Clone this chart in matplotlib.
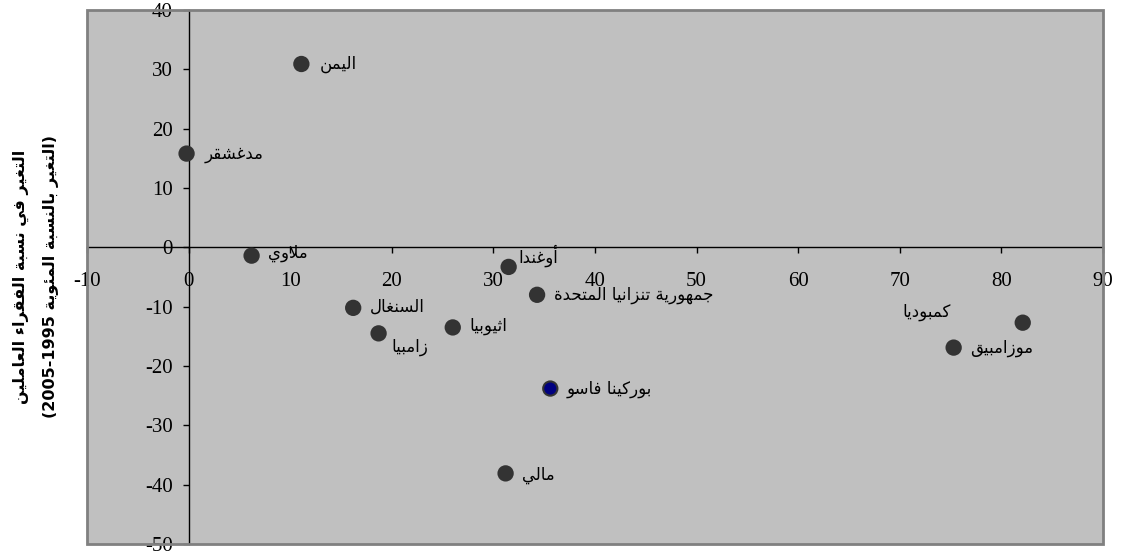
import matplotlib
matplotlib.use("Agg")
import matplotlib.pyplot as plt
from matplotlib.patches import Rectangle

# country names (logical order) and values
countries = ["اليمن", "مدغشقر", "ملاوي", "السنغال", "زامبيا", "اثيوبيا", "أوغندا",
             "جمهورية تنزانيا المتحدة", "بوركينا فاسو", "مالي", "كمبوديا", "موزامبيق"]
x_vals = [11.1, -0.2, 6.2, 16.2, 18.7, 26.0, 31.5, 34.3, 35.6, 31.2, 82.1, 75.3]
y_vals = [30.9, 15.8, -1.4, -10.2, -14.5, -13.5, -3.3, -8.0, -23.8, -38.1, -12.7, -16.9]
highlight = "بوركينا فاسو"

ylabel_lines = ["التغير في نسبة الفقراء العاملين", "(التغير بالنسبة المئوية 2005-1995)"]

x_ticks = list(range(-10, 91, 10))
y_ticks = list(range(-50, 41, 10))

# label placement (offset in points, horizontal alignment)
label_offsets = [(13, 0, "left"), (13, 0, "left"), (12, 2, "left"), (12, 1, "left"),
                 (9, -10, "left"), (12, 1, "left"), (7, 8, "left"), (12, 0, "left"),
                 (12, 0, "left"), (12, -1, "left"), (-52, 8, "right"), (12, 0, "left")]


# --- minimal Arabic shaping + visual reordering (matplotlib has no bidi) ---
DUAL = {"ئ": 0xFE89, "ب": 0xFE8F, "ت": 0xFE95, "ث": 0xFE99, "ج": 0xFE9D, "ح": 0xFEA1,
        "خ": 0xFEA5, "س": 0xFEB1, "ش": 0xFEB5, "ص": 0xFEB9, "ض": 0xFEBD, "ط": 0xFEC1,
        "ظ": 0xFEC5, "ع": 0xFEC9, "غ": 0xFECD, "ف": 0xFED1, "ق": 0xFED5, "ك": 0xFED9,
        "ل": 0xFEDD, "م": 0xFEE1, "ن": 0xFEE5, "ه": 0xFEE9, "ي": 0xFEF1}
RIGHT = {"أ": 0xFE83, "ا": 0xFE8D, "ة": 0xFE93, "د": 0xFEA9, "ذ": 0xFEAB, "ر": 0xFEAD,
         "ز": 0xFEAF, "و": 0xFEED, "ى": 0xFEEF, "لا": 0xFEFB, "لأ": 0xFEF7}
NONJOIN = {"ء": 0xFE80}


def shape(text):
    units = []
    i = 0
    while i < len(text):
        if text[i] == "ل" and i + 1 < len(text) and text[i + 1] in "اأ":
            units.append(text[i:i + 2])
            i += 2
        else:
            units.append(text[i])
            i += 1
    out = []
    for k, u in enumerate(units):
        prev = units[k - 1] if k > 0 else None
        nxt = units[k + 1] if k + 1 < len(units) else None
        if u in DUAL:
            jp = prev in DUAL
            jn = nxt in DUAL or nxt in RIGHT or nxt in NONJOIN
            base = DUAL[u]
            if jp and jn:
                out.append(chr(base + 3))
            elif jp:
                out.append(chr(base + 1))
            elif jn:
                out.append(chr(base + 2))
            else:
                out.append(chr(base))
        elif u in RIGHT:
            out.append(chr(RIGHT[u] + (1 if prev in DUAL else 0)))
        elif u in NONJOIN:
            out.append(chr(NONJOIN[u]))
        else:
            out.append(u)
    return out


def visual(text):
    chars = shape(text)[::-1]
    # put runs of digits back in left-to-right order, mirror brackets
    res, run = [], []
    for c in chars + [None]:
        if c is not None and (c.isdigit() or (c == "-" and run)):
            run.append(c)
            continue
        if run:
            res.extend(run[::-1])
            run = []
        if c is not None:
            res.append({"(": ")", ")": "("}.get(c, c))
    return "".join(res)


plt.rcParams["font.family"] = ["Liberation Serif", "DejaVu Sans"]
plt.rcParams["axes.unicode_minus"] = False

fig = plt.figure(figsize=(11.21, 5.54), dpi=100)
ax = fig.add_axes([87 / 1121, 10 / 554, (1103 - 87) / 1121, (544 - 10) / 554])
ax.set_facecolor("#C0C0C0")
ax.set_xlim(-10, 90)
ax.set_ylim(-50, 40)

colors = ["#000080" if c == highlight else "#333333" for c in countries]
ax.scatter(x_vals, y_vals, s=105, c=colors, edgecolors="#333333", linewidths=1.5, zorder=3)

for name, xv, yv, (dx, dy, ha) in zip(countries, x_vals, y_vals, label_offsets):
    ax.annotate(visual(name), (xv, yv), xytext=(dx, dy), textcoords="offset points",
                ha=ha, va="center", fontsize=12, family="DejaVu Sans", zorder=4)

# axes crossing at zero
for side in ["left", "bottom"]:
    ax.spines[side].set_position(("data", 0))
    ax.spines[side].set_color("black")
    ax.spines[side].set_linewidth(1)
for side in ["top", "right"]:
    ax.spines[side].set_visible(False)
ax.add_patch(Rectangle((0, 0), 1, 1, transform=ax.transAxes, fill=False,
                       ec="#808080", lw=2, clip_on=False, zorder=5))

ax.set_xticks(x_ticks)
ax.set_yticks(y_ticks)
ax.tick_params(axis="x", direction="out", length=4, width=1, pad=14, labelsize=15)
ax.tick_params(axis="y", direction="out", length=4.5, width=1, pad=7, labelsize=15)

fig.text(36 / 1121, 0.5, visual(ylabel_lines[0]) + "\n" + visual(ylabel_lines[1]),
         rotation=90, ha="center", va="center", multialignment="center",
         fontsize=11.5, fontweight="bold", family="DejaVu Sans", linespacing=2.1)

fig.savefig("out.png", dpi=100)
